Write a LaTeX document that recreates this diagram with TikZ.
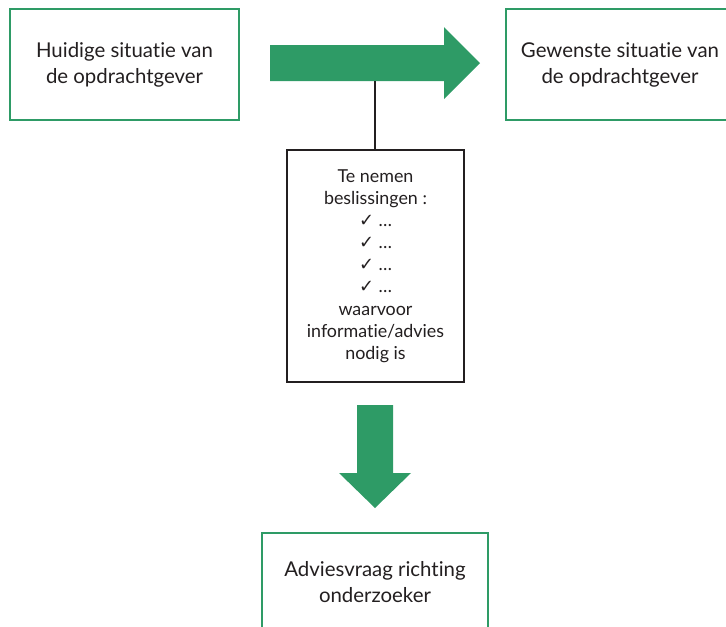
\documentclass[tikz,border=0pt]{standalone}
\usepackage{fontspec}
\setmainfont[Ligatures={NoCommon,NoRequired,NoContextual}]{Lato}
\newfontfamily\symfont{DejaVu Sans}
\definecolor{leaf}{RGB}{46,155,102}
\definecolor{ink}{RGB}{35,31,32}
\begin{document}
\begin{tikzpicture}[x=0.75pt,y=-0.75pt,
  greenbox/.style={draw=leaf,line width=1.5pt,fill=white,inner sep=0pt},
  inkbox/.style={draw=ink,line width=0.9pt,fill=white,inner sep=0pt},
  bigtext/.style={text=ink,align=center,font=\fontsize{15.3}{19.5}\selectfont},
  smalltext/.style={text=ink,align=center,font=\fontsize{13.4}{16.6}\selectfont},
  fat/.style={fill=leaf,draw=none},
  tick/.style={font=\symfont\fontsize{12}{16.6}\selectfont}]
\useasboundingbox (0,0) rectangle (726,626);
\clip (0,0) rectangle (726,626);

% present and desired situation
\node[greenbox,bigtext,minimum width=171.75pt,minimum height=83.25pt] (now) at (124.5,64.5)
  {Huidige situatie van\\de opdrachtgever};
\node[greenbox,bigtext,minimum width=171pt,minimum height=83.25pt] (goal) at (620,64.5)
  {Gewenste situatie van\\de opdrachtgever};

% broad arrow from present to desired state
\fill[fat] (270,45) -- (444,45) -- (444,27) -- (480,63) -- (444,99) -- (444,81) -- (270,81) -- cycle;
\coordinate (stem) at (375,81);

% decisions box hanging from the arrow
\node[inkbox,smalltext,minimum width=132.75pt,minimum height=174pt] (dec) at (375.5,266)
  {Te nemen\\beslissingen :\\{\symfont ✓} …\\{\symfont ✓} …\\{\symfont ✓} …\\{\symfont ✓} …\\waarvoor\\informatie/advies\\nodig is};
\draw[ink,line width=0.9pt] (stem) -- (dec.north -| stem);

% broad arrow downwards
\fill[fat] (357,405) -- (393,405) -- (393,473) -- (411,473) -- (375,508) -- (339,473) -- (357,473) -- cycle;

% research question, box runs past the lower edge
\draw[greenbox] (262,533) rectangle (488,650);
\node[bigtext] (ask) at (375,582) {Adviesvraag richting\\onderzoeker};
\end{tikzpicture}
\end{document}
